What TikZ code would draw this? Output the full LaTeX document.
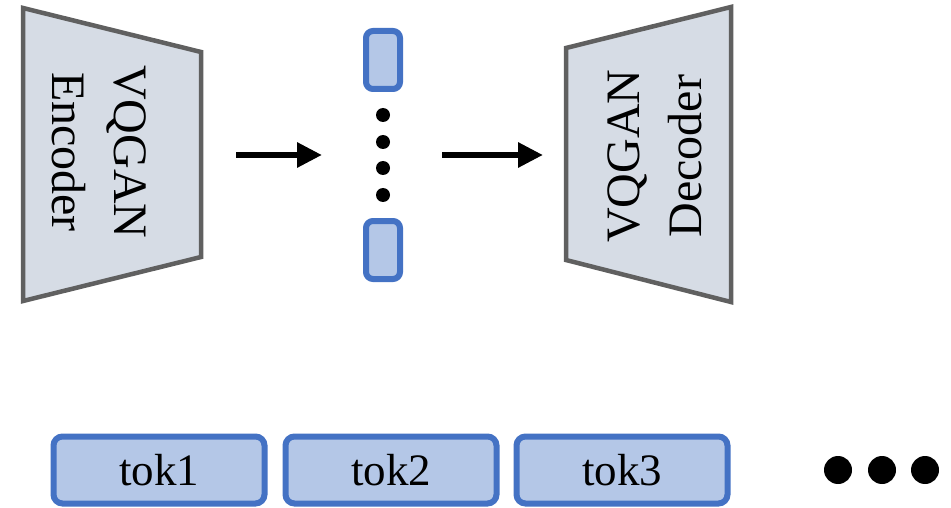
\documentclass[tikz,border=0pt]{standalone}
\usepackage{fontspec}
\setmainfont{Liberation Serif}
\usetikzlibrary{arrows.meta}
\definecolor{trapfill}{HTML}{D6DCE5}
\definecolor{trapdraw}{HTML}{606060}
\definecolor{tokdraw}{HTML}{4472C4}
\definecolor{tokfill}{HTML}{B4C7E7}
\tikzset{
  trap/.style={draw=trapdraw, fill=trapfill, line width=4.5pt, line join=miter},
  bigtext/.style={font=\fontsize{48}{62}\selectfont, align=center, inner sep=0pt},
  codebox/.style={draw=tokdraw, fill=tokfill, line width=6pt, rounded corners=7pt, minimum width=34pt, minimum height=58pt, inner sep=0pt},
  tokbox/.style={draw=tokdraw, fill=tokfill, line width=6pt, rounded corners=9pt, minimum width=211pt, minimum height=67pt, inner sep=0pt, font=\fontsize{45}{50}\selectfont},
  smalldot/.style={circle, fill=black, minimum size=14pt, inner sep=0pt},
  bigdot/.style={circle, fill=black, minimum size=28pt, inner sep=0pt},
  flow/.style={line width=6pt, -{Triangle[length=25pt,width=24pt]}}
}
\begin{document}
\begin{tikzpicture}[x=1pt,y=-1pt]
\useasboundingbox (0,0) rectangle (951,508);
% encoder
\draw[trap] (23,8) -- (201,52) -- (201,257) -- (23,301) -- cycle;
\node[bigtext, rotate=-90] (enc) at (99,152) {VQGAN\\Encoder};
% decoder
\draw[trap] (566,48) -- (731,7) -- (731,302) -- (566,260) -- cycle;
\node[bigtext, rotate=90] (dec) at (655,156) {VQGAN\\Decoder};
% codes
\node[codebox] (c1) at (383,60) {};
\node[codebox] (c2) at (383,250) {};
\node[smalldot] (d1) at (383,115) {};
\node[smalldot] (d2) at (383,142) {};
\node[smalldot] (d3) at (383,168) {};
\node[smalldot] (d4) at (383,195) {};
% arrows
\coordinate (a1s) at (236,155);
\coordinate (a1e) at (322,155);
\coordinate (a2s) at (442,155);
\coordinate (a2e) at (543,155);
\draw[flow] (a1s) -- (a1e);
\draw[flow] (a2s) -- (a2e);
% tokens
\node[tokbox] (t1) at (159,470) {tok1};
\node[tokbox] (t2) at (391,470) {tok2};
\node[tokbox] (t3) at (622,470) {tok3};
\node[bigdot] (e1) at (838,470) {};
\node[bigdot] (e2) at (882,470) {};
\node[bigdot] (e3) at (925,470) {};
\end{tikzpicture}
\end{document}
